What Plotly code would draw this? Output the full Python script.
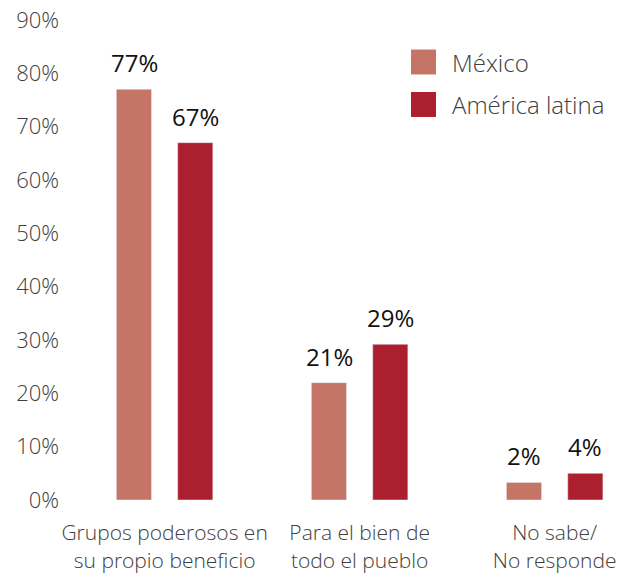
import plotly.graph_objects as go

categories = ["Grupos poderosos en<br>su propio beneficio",
              "Para el bien de<br>todo el pueblo",
              "No sabe/<br>No responde"]
series_names = ["México", "América latina"]
mexico_values = [77, 22, 3.3]
latam_values = [67, 29.2, 5]
mexico_labels = ["77%", "21%", "2%"]
latam_labels = ["67%", "29%", "4%"]
colors = ["#C57566", "#AC1F2E"]
tick_vals = [0, 10, 20, 30, 40, 50, 60, 70, 80, 90]
tick_text = [f"{v}%" for v in tick_vals]

FONT = "Open Sans"
fig = go.Figure()
for name, vals, col in zip(series_names, [mexico_values, latam_values], colors):
    fig.add_trace(go.Bar(x=categories, y=vals, name=name, marker_color=col,
                         showlegend=False, hoverinfo="skip"))

annotations = []
for vals, labs, shift in [(mexico_values, mexico_labels, -30.5), (latam_values, latam_labels, 30.5)]:
    for c, v, t in zip(categories, vals, labs):
        annotations.append(dict(x=c, y=v, text=t, showarrow=False, xref="x", yref="y",
                                xshift=shift, yshift=8, yanchor="bottom",
                                font=dict(family=FONT, size=24, color="#111111", weight=500)))

# custom legend
legend_y = [0.9125, 0.824]
shapes = []
for name, col, yc in zip(series_names, colors, legend_y):
    shapes.append(dict(type="rect", xref="paper", yref="paper",
                       x0=0.6254, x1=0.6703, y0=yc - 0.026, y1=yc + 0.026,
                       fillcolor=col, line=dict(width=0)))
    annotations.append(dict(x=0.695, y=yc, xref="paper", yref="paper", text=name,
                            showarrow=False, xanchor="left", yanchor="middle",
                            font=dict(family=FONT, size=24, color="#404040", weight=300)))

fig.update_layout(
    width=629, height=573,
    margin=dict(l=62, r=9, t=20, b=73, autoexpand=False),
    paper_bgcolor="white", plot_bgcolor="white",
    barmode="group", bargap=0.371, bargroupgap=0.427,
    annotations=annotations, shapes=shapes,
    font=dict(family=FONT, color="#404040"),
    xaxis=dict(range=[-0.526, 2.335], showgrid=False, showline=False, zeroline=False,
               automargin=False, ticklabeloverflow="allow",
               ticks="outside", ticklen=14, tickcolor="rgba(0,0,0,0)",
               tickfont=dict(family=FONT, size=21, color="#404040", weight=300)),
    yaxis=dict(range=[0, 90], tickvals=tick_vals, ticktext=tick_text, showgrid=False,
               showline=False, zeroline=False, automargin=False, ticklabeloverflow="allow",
               ticklabelstandoff=2,
               tickfont=dict(family=FONT, size=22, color="#404040", weight=300)),
)
fig.write_html("out.html", config={"displayModeBar": False},
               post_script="document.body.style.margin='0';document.body.style.overflow='hidden';")
